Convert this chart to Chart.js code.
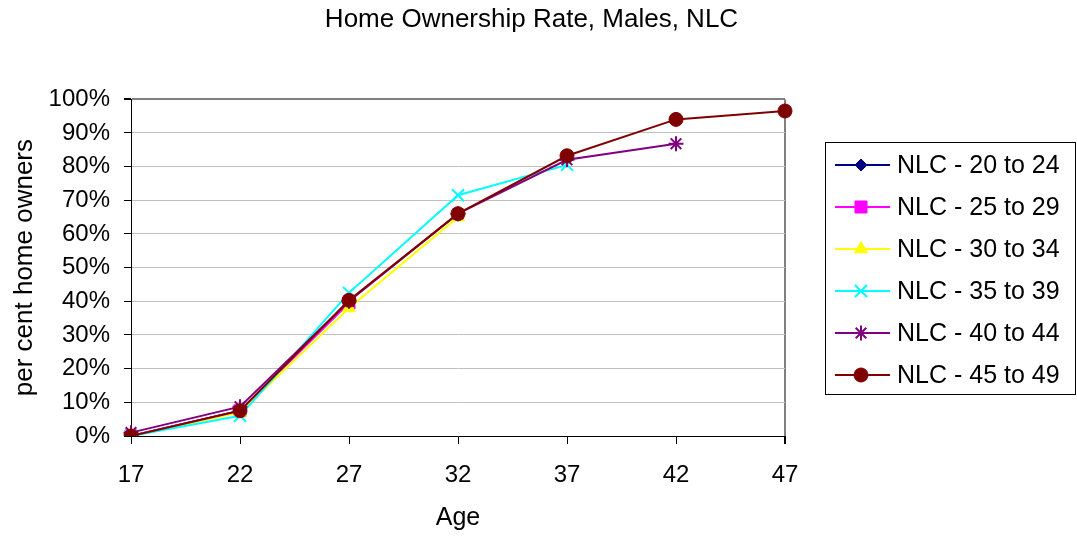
<!DOCTYPE html>
<html>
<head>
<meta charset="utf-8">
<title>Home Ownership Rate, Males, NLC</title>
<script src="https://cdn.jsdelivr.net/npm/chart.js@4/dist/chart.umd.min.js"></script>
<style>
  html, body { margin: 0; padding: 0; background: #fff; }
  #wrap { position: relative; width: 1077px; height: 541px; }
</style>
</head>
<body>
<div id="wrap"><canvas id="ownership-chart"></canvas></div>
<script>
const ages = ['17', '22', '27', '32', '37', '42', '47'];
const cohortNames = [
  'NLC - 20 to 24',
  'NLC - 25 to 29',
  'NLC - 30 to 34',
  'NLC - 35 to 39',
  'NLC - 40 to 44',
  'NLC - 45 to 49',
];
const nlc20to24 = [0, 7.5];
const nlc25to29 = [0, 7.5, 39.5];
const nlc30to34 = [0, 7, 38, 65];
const nlc35to39 = [0, 6, 42.5, 71.5, 80.5];
const nlc40to44 = [1, 8.7, 40, 66, 82, 86.8];
const nlc45to49 = [0, 7.5, 40.3, 66, 83.2, 94, 96.5];
const yTicks = [0, 10, 20, 30, 40, 50, 60, 70, 80, 90, 100];

(function () {
  const fontFamily = '"Liberation Sans", Arial, sans-serif';
  const seriesValues = [nlc20to24, nlc25to29, nlc30to34, nlc35to39, nlc40to44, nlc45to49];

  const styles = [
    { color: '#000080', point: 'rectRot', radius: 6, width: 1 },
    { color: '#ff00ff', point: 'rect', radius: 8.5, width: 1 },
    { color: '#ffff00', point: 'triangle', radius: 7.5, width: 1 },
    { color: '#00ffff', point: 'crossRot', radius: 8.5, width: 2 },
    { color: '#800080', point: 'star', radius: 7.5, width: 2 },
    { color: '#800000', point: 'circle', radius: 7, width: 1 },
  ];

  const datasets = seriesValues.map((values, i) => ({
    label: cohortNames[i],
    data: values,
    borderColor: styles[i].color,
    backgroundColor: styles[i].color,
    borderWidth: 2,
    pointStyle: styles[i].point,
    pointRadius: styles[i].radius,
    pointHoverRadius: styles[i].radius,
    pointBorderWidth: styles[i].width,
    pointBackgroundColor: styles[i].color,
    pointBorderColor: styles[i].color,
    fill: false,
    tension: 0,
    order: seriesValues.length - 1 - i,
  }));

  // Excel-like legend: boxed, line sample with marker in the middle
  const boxLegend = {
    id: 'boxLegend',
    afterDraw(chart) {
      const ctx = chart.ctx;
      const box = { x: 825.5, y: 142.5, w: 250, h: 252 };
      ctx.save();
      ctx.strokeStyle = '#000';
      ctx.lineWidth = 1;
      ctx.strokeRect(box.x, box.y, box.w, box.h);
      ctx.font = `25px ${fontFamily}`;
      ctx.textBaseline = 'middle';
      ctx.textAlign = 'left';
      chart.data.datasets.forEach((ds, i) => {
        const y = 165 + i * 42;
        ctx.strokeStyle = ds.borderColor;
        ctx.lineWidth = 2;
        ctx.beginPath();
        ctx.moveTo(835, y);
        ctx.lineTo(890, y);
        ctx.stroke();
        ctx.fillStyle = ds.pointBackgroundColor;
        ctx.strokeStyle = ds.pointBorderColor;
        ctx.lineWidth = ds.pointBorderWidth;
        Chart.helpers.drawPoint(ctx, {
          pointStyle: ds.pointStyle,
          radius: ds.pointRadius,
          rotation: 0,
          borderWidth: ds.pointBorderWidth,
        }, 861, y);
        ctx.fillStyle = '#000';
        ctx.fillText(ds.label, 897, y + 1);
      });
      ctx.restore();
    },
  };

  new Chart(document.getElementById('ownership-chart'), {
    type: 'line',
    data: { labels: ages, datasets },
    options: {
      responsive: true,
      maintainAspectRatio: false,
      animation: false,
      layout: { padding: { top: 0, left: 0, right: 14, bottom: 0 } },
      plugins: {
        legend: { display: false },
        tooltip: { enabled: false },
        title: {
          display: true,
          text: 'Home Ownership Rate, Males, NLC',
          color: '#000',
          font: { family: fontFamily, size: 26, weight: 'normal' },
          padding: { top: 4, bottom: 64 },
        },
      },
      scales: {
        x: {
          offset: false,
          afterFit: (scale) => { scale.height = 105; },
          border: { color: '#000', width: 1 },
          grid: {
            color: (c) => (c.index === ages.length - 1 ? '#808080' : 'rgba(0,0,0,0)'),
            lineWidth: (c) => (c.index === ages.length - 1 ? 2 : 1),
            tickColor: '#000',
            tickLength: 8,
          },
          ticks: {
            color: '#000',
            padding: 17,
            maxRotation: 0,
            font: { family: fontFamily, size: 24 },
          },
          title: {
            display: true,
            text: 'Age',
            color: '#000',
            font: { family: fontFamily, size: 25 },
            padding: { top: 0, bottom: 8 },
          },
        },
        y: {
          min: 0,
          max: 100,
          afterFit: (scale) => { scale.width = 131; },
          afterBuildTicks: (scale) => { scale.ticks = yTicks.map((v) => ({ value: v })); },
          border: { color: '#000', width: 1 },
          grid: {
            color: (c) => (c.tick && c.tick.value === 100 ? '#808080' : '#c0c0c0'),
            lineWidth: (c) => (c.tick && c.tick.value === 100 ? 2 : 1),
            tickColor: '#000',
            tickLength: 7,
          },
          ticks: {
            color: '#000',
            padding: 14,
            font: { family: fontFamily, size: 24 },
            callback: (value) => `${value}%`,
          },
          title: {
            display: true,
            text: 'per cent home owners',
            color: '#000',
            font: { family: fontFamily, size: 26 },
            padding: { top: 9, bottom: 0 },
          },
        },
        // empty right-hand box that keeps room for the legend
        legendSpace: {
          position: 'right',
          afterFit: (scale) => { scale.width = 278; },
          border: { display: false },
          grid: { display: false, drawTicks: false },
          ticks: { display: false },
        },
      },
    },
    plugins: [boxLegend],
  });
})();
</script>
</body>
</html>
